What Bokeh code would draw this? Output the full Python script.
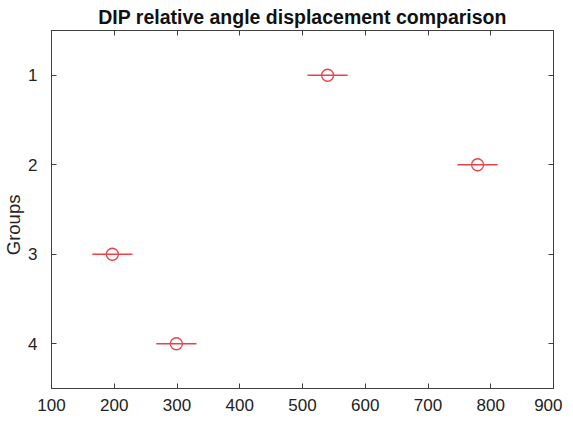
from bokeh.plotting import figure
from bokeh.models import Range1d, LinearAxis, FixedTicker
from bokeh.embed import file_html
from bokeh.resources import INLINE

groups = [1, 2, 3, 4]
means = [540, 779, 197, 299]
lower = [508, 747, 165, 267]
upper = [572, 811, 229, 331]
x_ticks = [100, 200, 300, 400, 500, 600, 700, 800, 900]
y_ticks = [1, 2, 3, 4]

RED = "#e8434b"
AX = "#404040"
FONT = "Liberation Sans"

p = figure(output_backend="svg", toolbar_location=None,
           x_range=Range1d(100, 900), y_range=Range1d(4.5, 0.5),
           frame_width=502, frame_height=358,
           min_border_left=46, min_border_right=9, min_border_top=3, min_border_bottom=3)

p.title.text = "DIP relative angle displacement comparison"
p.title.align = "center"
p.title.text_font = FONT
p.title.text_font_size = "19.5px"
p.title.text_font_style = "bold"
p.title.text_color = "#111111"
p.title.offset = 0
p.title.standoff = 6

p.grid.visible = False
p.outline_line_color = AX
p.outline_line_width = 1
p.background_fill_color = "white"
p.border_fill_color = "white"

p.segment(x0=lower, y0=groups, x1=upper, y1=groups, line_color=RED, line_width=1.5)
p.scatter(means, groups, size=12, marker="circle", fill_color=None, line_color=RED, line_width=1.3)

for ax in (p.xaxis[0], p.yaxis[0]):
    ax.major_tick_in = 5
    ax.major_tick_out = 0
    ax.minor_tick_line_color = None
    ax.axis_line_color = AX
    ax.major_tick_line_color = AX
    ax.major_label_text_font = FONT
    ax.major_label_text_font_size = "17px"
    ax.major_label_text_color = "#222222"

p.xaxis.ticker = FixedTicker(ticks=x_ticks)
p.yaxis.ticker = FixedTicker(ticks=y_ticks)
p.xaxis.major_label_standoff = 10
p.yaxis.major_label_standoff = 14
p.yaxis.axis_label = "Groups" + "\u00a0" * 6
p.yaxis.axis_label_text_font = FONT
p.yaxis.axis_label_text_font_size = "18.5px"
p.yaxis.axis_label_text_font_style = "normal"
p.yaxis.axis_label_text_color = "#222222"
p.yaxis.axis_label_standoff = 1

blank_x = {t: "" for t in x_ticks}
blank_y = {t: "" for t in y_ticks}
top = LinearAxis(ticker=FixedTicker(ticks=x_ticks), major_tick_in=5, major_tick_out=0,
                 minor_tick_line_color=None, major_label_overrides=blank_x,
                 axis_line_color=AX, major_tick_line_color=AX, major_label_standoff=0)
right = LinearAxis(ticker=FixedTicker(ticks=y_ticks), major_tick_in=5, major_tick_out=0,
                   minor_tick_line_color=None, major_label_overrides=blank_y,
                   axis_line_color=AX, major_tick_line_color=AX, major_label_standoff=0)
p.add_layout(top, "above")
p.add_layout(right, "right")

open("out.html", "w").write(file_html(p, INLINE))
